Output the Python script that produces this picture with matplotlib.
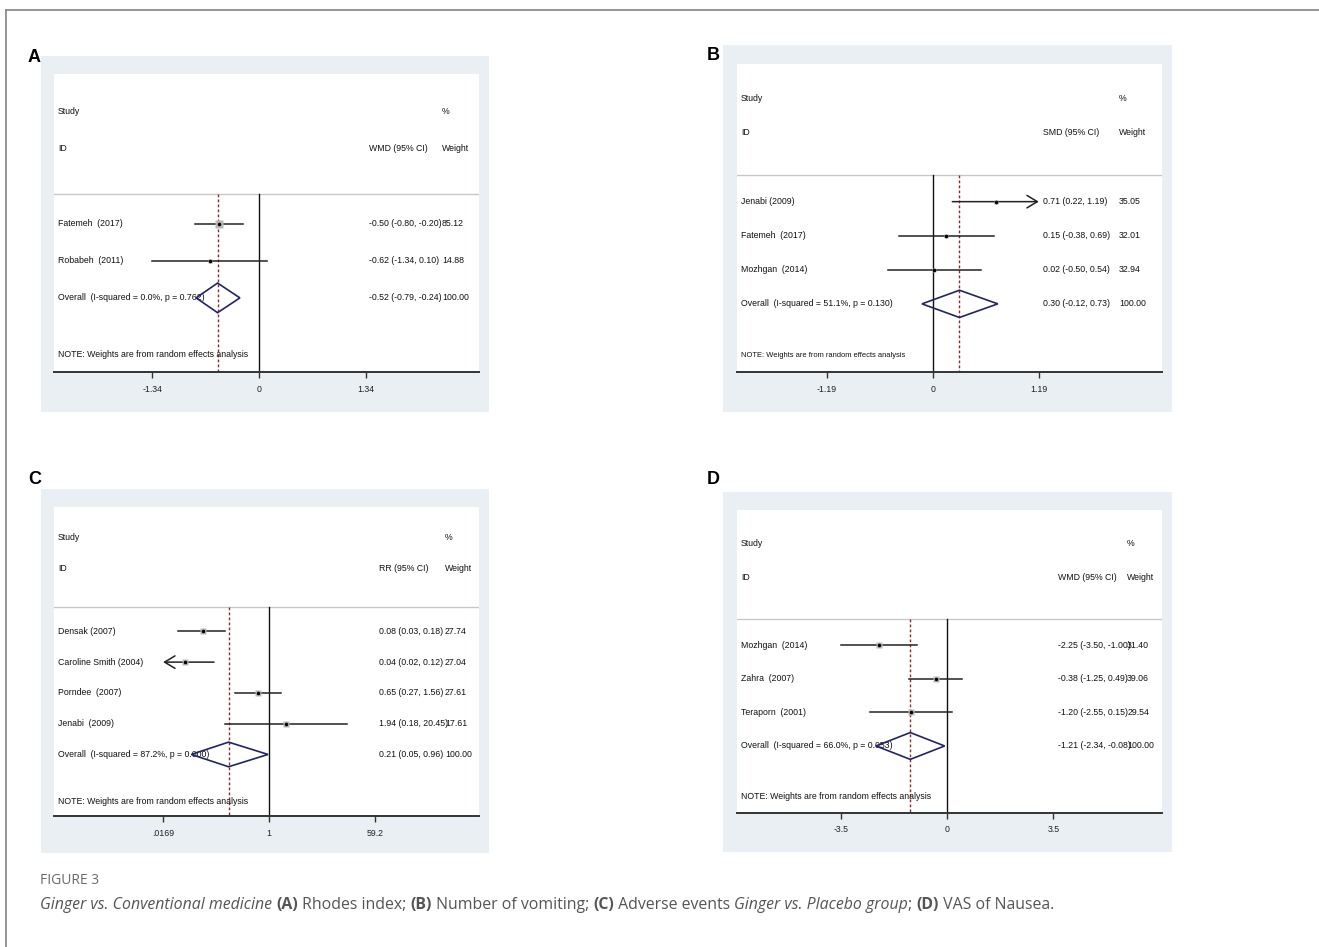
import numpy as np
import matplotlib
matplotlib.use("Agg")
import matplotlib.pyplot as plt
import matplotlib.transforms as mtrans
from matplotlib.patches import Rectangle, Polygon
from matplotlib.lines import Line2D

W, H, DPI = 1319, 947, 100
FONT = ["Liberation Sans", "DejaVu Sans"]

# ---------------- data ----------------
# A: Rhodes index (WMD)
a_names = ["Fatemeh  (2017)", "Robabeh  (2011)"]
a_est = [-0.50, -0.62]
a_lo = [-0.80, -1.34]
a_hi = [-0.20, 0.10]
a_wt = [85.12, 14.88]
a_overall = [-0.52, -0.79, -0.24]
a_overall_label = "Overall  (I-squared = 0.0%, p = 0.762)"
a_ticks = [-1.34, 0, 1.34]
a_ticklabels = ["-1.34", "0", "1.34"]

# B: number of vomiting (SMD)
b_names = ["Jenabi (2009)", "Fatemeh  (2017)", "Mozhgan  (2014)"]
b_est = [0.71, 0.15, 0.02]
b_lo = [0.22, -0.38, -0.50]
b_hi = [1.19, 0.69, 0.54]
b_wt = [35.05, 32.01, 32.94]
b_overall = [0.30, -0.12, 0.73]
b_overall_label = "Overall  (I-squared = 51.1%, p = 0.130)"
b_ticks = [-1.19, 0, 1.19]
b_ticklabels = ["-1.19", "0", "1.19"]

# C: adverse events (RR, log scale)
c_names = ["Densak (2007)", "Caroline Smith (2004)", "Porndee  (2007)", "Jenabi  (2009)"]
c_est = [0.08, 0.04, 0.65, 1.94]
c_lo = [0.03, 0.02, 0.27, 0.18]
c_hi = [0.18, 0.12, 1.56, 20.45]
c_wt = [27.74, 27.04, 27.61, 17.61]
c_overall = [0.21, 0.05, 0.96]
c_overall_label = "Overall  (I-squared = 87.2%, p = 0.000)"
c_ticks = [0.0169, 1, 59.2]
c_ticklabels = [".0169", "1", "59.2"]

# D: VAS of nausea (WMD)
d_names = ["Mozhgan  (2014)", "Zahra  (2007)", "Teraporn  (2001)"]
d_est = [-2.25, -0.38, -1.20]
d_lo = [-3.50, -1.25, -2.55]
d_hi = [-1.00, 0.49, 0.15]
d_wt = [31.40, 39.06, 29.54]
d_overall = [-1.21, -2.34, -0.08]
d_overall_label = "Overall  (I-squared = 66.0%, p = 0.053)"
d_ticks = [-3.5, 0, 3.5]
d_ticklabels = ["-3.5", "0", "3.5"]

note = "NOTE: Weights are from random effects analysis"

fig = plt.figure(figsize=(W / DPI, H / DPI), dpi=DPI)
fig.patch.set_facecolor("white")

# outer frame (top and left)
fig.add_artist(Line2D([6 / W, 1], [1 - 10 / H] * 2, transform=fig.transFigure, color="#8c8c8c", lw=1.3))
fig.add_artist(Line2D([6 / W] * 2, [1 - 10 / H, 0], transform=fig.transFigure, color="#8c8c8c", lw=1.3))


def fx(px):
    return px / W


def fy(py):
    return 1 - py / H


def forest(letter, letter_xy, region, plot, xlim, names, est, lo, hi, wt, overall, overall_label,
           measure, ticks, ticklabels, es_col, wt_col, log=False, arrows=None, box_k=0.9,
           fs=6.3, note_fs=6.3):
    arrows = arrows or {}
    x0, y0, x1, y1 = region
    fig.add_artist(Rectangle((fx(x0), fy(y1)), fx(x1 - x0), (y1 - y0) / H, transform=fig.transFigure,
                             facecolor="#e9eff3", edgecolor="none", zorder=0))
    fig.text(fx(letter_xy[0]), fy(letter_xy[1]), letter, fontsize=13, fontweight="bold",
             family=FONT, ha="left", va="center")

    px0, py0, px1, py1 = plot
    ax = fig.add_axes([fx(px0), fy(py1), fx(px1 - px0), (py1 - py0) / H])
    ax.set_facecolor("white")
    n = len(names)
    rows = 4.04 + np.arange(n)
    y_over = 4.04 + n
    y_note = y_over + 1.52
    bottom = y_over + 2.0
    sep = 3.25
    if log:
        ax.set_xscale("log")
    ax.set_xlim(*xlim)
    ax.set_ylim(bottom, 0)

    for s in ["top", "left", "right"]:
        ax.spines[s].set_visible(False)
    ax.spines["bottom"].set_color("#333333")
    ax.spines["bottom"].set_linewidth(1.4)
    ax.set_yticks([])
    ax.set_xticks(ticks)
    ax.set_xticklabels(ticklabels, family=FONT, fontsize=fs)
    ax.xaxis.set_minor_locator(matplotlib.ticker.NullLocator())
    ax.tick_params(axis="x", length=4, width=1, color="#333333", pad=5, labelcolor="#222222")

    ax.axhline(sep, color="#c8c8c8", lw=1)
    null = 1 if log else 0
    ax.plot([null, null], [sep, bottom], color="#111111", lw=1)
    ax.plot([overall[0]] * 2, [sep, bottom], color="#8b2a2a", lw=1, dashes=(2, 1.6))

    for i in range(n):
        y = rows[i]
        if i in arrows:
            tip = ticks[-1] if arrows[i] == "right" else ticks[0]
            start = lo[i] if arrows[i] == "right" else hi[i]
            ax.annotate("", xy=(tip, y), xytext=(start, y),
                        arrowprops=dict(arrowstyle="->,head_length=0.75,head_width=0.45",
                                        color="#222222", lw=1.1, shrinkA=0, shrinkB=0))
        else:
            ax.plot([lo[i], hi[i]], [y, y], color="#222222", lw=1.1)
        side = box_k * np.sqrt(wt[i]) * 72 / DPI
        ax.plot([est[i]], [y], marker="s", ms=side, color="#b9b9b9", mec="none", zorder=3)
        ax.plot([est[i]], [y], marker="o", ms=2.6, color="black", mec="none", zorder=4)

    est_o, lo_o, hi_o = overall
    h = 0.4
    ax.add_patch(Polygon([[lo_o, y_over], [est_o, y_over - h], [hi_o, y_over], [est_o, y_over + h]],
                         closed=True, facecolor="none", edgecolor="#1f2566", lw=1.2, zorder=5))

    tr = mtrans.blended_transform_factory(ax.transAxes, ax.transData)
    kw = dict(transform=tr, va="center", family=FONT, fontsize=fs, color="#111111")
    lx = 0.0094
    ax.text(lx, 1, "Study", **kw)
    ax.text(lx, 2, "ID", **kw)
    ax.text(wt_col, 1, "%", **kw)
    ax.text(es_col, 2, measure, **kw)
    ax.text(wt_col, 2, "Weight", **kw)
    for i in range(n):
        ax.text(lx, rows[i], names[i], **kw)
        ax.text(es_col, rows[i], f"{est[i]:.2f} ({lo[i]:.2f}, {hi[i]:.2f})", **kw)
        ax.text(wt_col, rows[i], f"{wt[i]:.2f}", **kw)
    ax.text(lx, y_over, overall_label, **kw)
    ax.text(es_col, y_over, f"{est_o:.2f} ({lo_o:.2f}, {hi_o:.2f})", **kw)
    ax.text(wt_col, y_over, "100.00", **kw)
    kw["fontsize"] = note_fs
    ax.text(lx, y_note, note, **kw)
    return ax


forest("A", (28, 57), (41, 56, 489, 412), (54, 74, 479, 372), (-2.575, 2.764),
       a_names, a_est, a_lo, a_hi, a_wt, a_overall, a_overall_label, "WMD (95% CI)",
       a_ticks, a_ticklabels, es_col=0.741, wt_col=0.913, box_k=0.95)

forest("B", (707, 55), (723, 45, 1172, 412), (737, 64, 1162, 372), (-2.194, 2.571),
       b_names, b_est, b_lo, b_hi, b_wt, b_overall, b_overall_label, "SMD (95% CI)",
       b_ticks, b_ticklabels, es_col=0.72, wt_col=0.899, arrows={0: "right"}, box_k=0.55,
       note_fs=5.4)

forest("C", (28, 480), (41, 489, 489, 853), (54, 507, 479, 816), (np.exp(-8.28), np.exp(8.08)),
       c_names, c_est, c_lo, c_hi, c_wt, c_overall, c_overall_label, "RR (95% CI)",
       c_ticks, c_ticklabels, es_col=0.765, wt_col=0.92, log=True, arrows={1: "left"}, box_k=1.2)

forest("D", (707, 480), (723, 492, 1172, 852), (737, 510, 1162, 813), (-6.91, 7.07),
       d_names, d_est, d_lo, d_hi, d_wt, d_overall, d_overall_label, "WMD (95% CI)",
       d_ticks, d_ticklabels, es_col=0.755, wt_col=0.918, box_k=1.0)

# caption
CAP = ["Open Sans", "DejaVu Sans"]
fig.text(fx(40), fy(880), "FIGURE 3", fontsize=10, color="#6b6b6b", family=CAP, va="center")
parts = [("Ginger vs. Conventional medicine ", "italic", "normal"),
         ("(A)", "normal", "bold"), (" Rhodes index; ", "normal", "normal"),
         ("(B)", "normal", "bold"), (" Number of vomiting; ", "normal", "normal"),
         ("(C)", "normal", "bold"), (" Adverse events ", "normal", "normal"),
         ("Ginger vs. Placebo group", "italic", "normal"), ("; ", "normal", "normal"),
         ("(D)", "normal", "bold"), (" VAS of Nausea.", "normal", "normal")]
renderer = fig.canvas.get_renderer()
x = fx(40)
for txt, style, weight in parts:
    t = fig.text(x, fy(905), txt, fontsize=11.4, color="#555555", family=CAP, style=style,
                 fontweight=weight, va="center")
    bb = t.get_window_extent(renderer)
    x += bb.width / W

fig.savefig("out.png", dpi=DPI)
